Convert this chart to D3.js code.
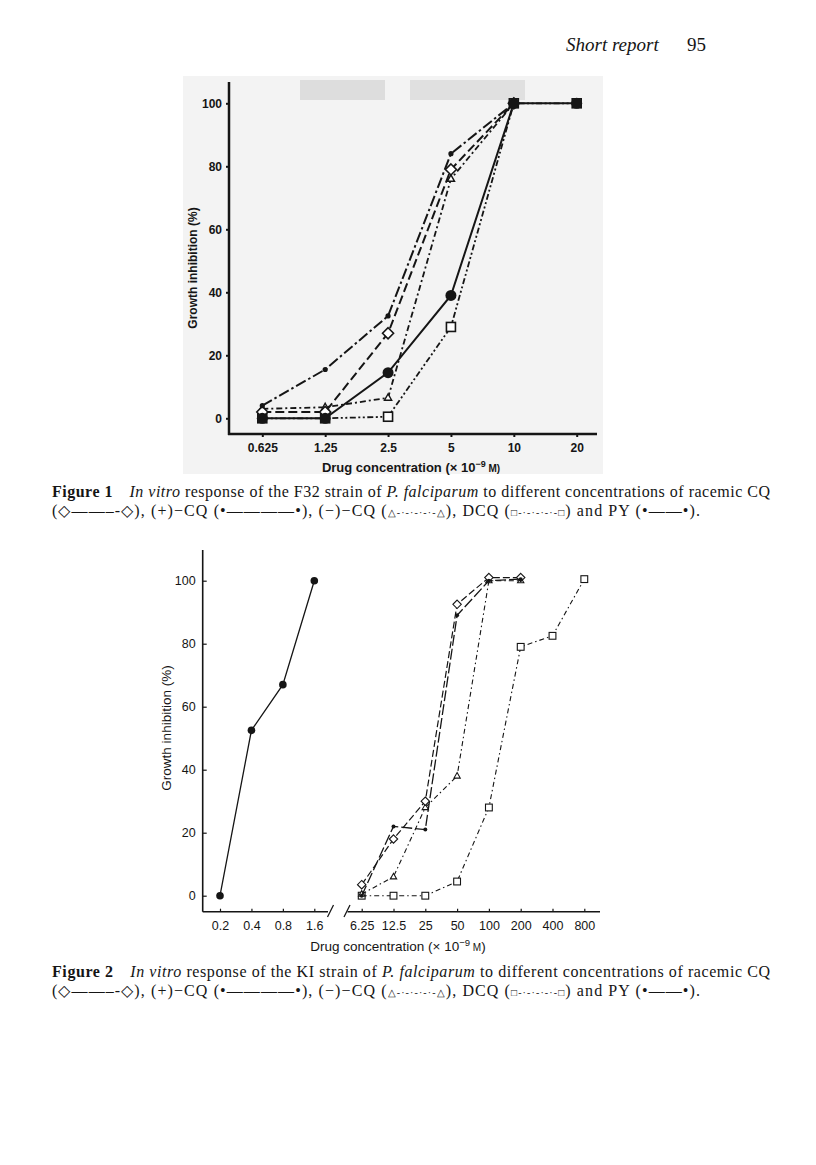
<!DOCTYPE html>
<html>
<head>
<meta charset="utf-8">
<script src="https://cdn.jsdelivr.net/npm/d3@7"></script>
<style>
  html, body { margin: 0; padding: 0; background: #fff; }
  svg { display: block; }
</style>
</head>
<body>
<svg id="page" width="816" height="1165"></svg>
<script>
// ---------------- DATA ----------------
// Figure 1 (F32 strain)
const fig1Conc = [0.625, 1.25, 2.5, 5, 10, 20];
const fig1TickLabels = ["0.625", "1.25", "2.5", "5", "10", "20"];
const fig1Racemic = [2, 2, 27, 79, 100, null];
const fig1Plus = [4, 15.5, 32.5, 84, 100, null];
const fig1Minus = [3, 3.5, 6.5, 76, 100, null];
const fig1DCQ = [0, 0, 0.5, 29, 100, 100];
const fig1PY = [0, 0, 14.5, 39, 100, 100];

// Figure 2 (KI strain)
const fig2PYConc = [0.2, 0.4, 0.8, 1.6];
const fig2PYLabels = ["0.2", "0.4", "0.8", "1.6"];
const fig2PY = [0, 52.5, 67, 100];
const fig2Conc = [6.25, 12.5, 25, 50, 100, 200, 400, 800];
const fig2TickLabels = ["6.25", "12.5", "25", "50", "100", "200", "400", "800"];
const fig2Racemic = [3.5, 18, 30, 92.5, 101, 101, null, null];
const fig2Plus = [0, 22, 21, 89, 100, 100.5, null, null];
const fig2Minus = [0.5, 6, 28, 38, 100, 100, null, null];
const fig2DCQ = [0, 0, 0, 4.5, 28, 79, 82.5, 100.5];

const yTicks = [0, 20, 40, 60, 80, 100];

// ---------------- DRAW ----------------
const svg = d3.select("#page");
const ink = "#151515";

// running header
svg.append("text").attr("x", 566).attr("y", 51)
  .attr("font-family", "Liberation Serif").attr("font-style", "italic")
  .attr("font-size", 19).attr("fill", ink).text("Short report");
svg.append("text").attr("x", 687).attr("y", 51)
  .attr("font-family", "Liberation Serif")
  .attr("font-size", 19).attr("fill", ink).text("95");

function zip(xs, ys) { return xs.map((x, i) => ({ x: x, v: ys[i] })); }

function drawMarker(g, type, cx, cy, size, sw) {
  if (type === "dot") {
    g.append("circle").attr("cx", cx).attr("cy", cy).attr("r", size).attr("fill", ink);
  } else if (type === "diamond") {
    g.append("path").attr("d", `M${cx},${cy - size}L${cx + size},${cy}L${cx},${cy + size}L${cx - size},${cy}Z`)
      .attr("fill", "#fff").attr("stroke", ink).attr("stroke-width", sw);
  } else if (type === "square") {
    g.append("rect").attr("x", cx - size).attr("y", cy - size).attr("width", 2 * size).attr("height", 2 * size)
      .attr("fill", "#fff").attr("stroke", ink).attr("stroke-width", sw);
  } else if (type === "triangle") {
    g.append("path").attr("d", `M${cx},${cy - size}L${cx + size * 0.9},${cy + size * 0.6}L${cx - size * 0.9},${cy + size * 0.6}Z`)
      .attr("fill", "#fff").attr("stroke", ink).attr("stroke-width", sw);
  }
}

function drawSeries(g, x, y, xs, ys, opt) {
  const pts = zip(xs, ys);
  const line = d3.line().defined(d => d.v != null).x(d => x(d.x)).y(d => y(d.v));
  g.append("path").datum(pts).attr("d", line)
    .attr("fill", "none").attr("stroke", ink).attr("stroke-width", opt.lw)
    .attr("stroke-dasharray", opt.dash || null);
  pts.filter(d => d.v != null).forEach(d => drawMarker(g, opt.marker, x(d.x), y(d.v), opt.size, opt.msw));
}

// ================= FIGURE 1 =================
(function () {
  const g = svg.append("g");
  // faint print-through background of the scanned figure
  g.append("rect").attr("x", 183).attr("y", 76).attr("width", 420).attr("height", 398).attr("fill", "#f3f3f3");
  g.append("rect").attr("x", 300).attr("y", 80).attr("width", 85).attr("height", 20).attr("fill", "#dddddd");
  g.append("rect").attr("x", 410).attr("y", 80).attr("width", 115).attr("height", 20).attr("fill", "#e0e0e0");

  const x = d3.scaleLog().base(2).domain([0.625, 20]).range([262.3, 576.7]);
  const y = d3.scaleLinear().domain([0, 100]).range([418.3, 103.3]);
  const axisX0 = 229, axisY0 = 434;

  // axes
  const yAxis = d3.axisLeft(y).tickValues(yTicks).tickSize(3).tickPadding(4);
  const ya = g.append("g").attr("transform", `translate(${axisX0},0)`).call(yAxis);
  ya.select(".domain").remove();
  ya.selectAll("line").attr("stroke", ink).attr("stroke-width", 2);
  ya.selectAll("text").attr("font-family", "Liberation Sans").attr("font-weight", "bold")
    .attr("font-size", 12).attr("fill", ink);

  const xAxis = d3.axisBottom(x).tickValues(fig1Conc).tickFormat((d, i) => fig1TickLabels[i]).tickSize(3).tickPadding(6);
  const xa = g.append("g").attr("transform", `translate(0,${axisY0})`).call(xAxis);
  xa.select(".domain").remove();
  xa.selectAll("line").attr("stroke", ink).attr("stroke-width", 2);
  xa.selectAll("text").attr("font-family", "Liberation Sans").attr("font-weight", "bold")
    .attr("font-size", 12).attr("fill", ink);

  g.append("line").attr("x1", axisX0).attr("x2", axisX0).attr("y1", 82).attr("y2", axisY0 + 1)
    .attr("stroke", ink).attr("stroke-width", 2.5);
  g.append("line").attr("x1", axisX0 - 1).attr("x2", 597).attr("y1", axisY0).attr("y2", axisY0)
    .attr("stroke", ink).attr("stroke-width", 2.5);

  // titles
  const xt = g.append("text").attr("x", 411).attr("y", 472).attr("text-anchor", "middle")
    .attr("font-family", "Liberation Sans").attr("font-weight", "bold").attr("font-size", 13).attr("fill", ink);
  xt.append("tspan").text("Drug concentration (× 10");
  xt.append("tspan").attr("dy", -5).attr("font-size", 9).text("−9");
  xt.append("tspan").attr("dy", 5).attr("font-size", 10).text(" M)");
  g.append("text").attr("transform", "translate(197,268) rotate(-90)").attr("text-anchor", "middle")
    .attr("font-family", "Liberation Sans").attr("font-weight", "bold").attr("font-size", 12).attr("fill", ink)
    .text("Growth inhibition (%)");

  // series
  drawSeries(g, x, y, fig1Conc, fig1DCQ, { marker: "square", size: 4.5, lw: 1.8, dash: "6,2.5,2,2.5,2,2.5", msw: 1.6 });
  drawSeries(g, x, y, fig1Conc, fig1Minus, { marker: "triangle", size: 4, lw: 1.8, dash: "6,3,2,3", msw: 1.4 });
  drawSeries(g, x, y, fig1Conc, fig1Racemic, { marker: "diamond", size: 5.5, lw: 2, dash: "9,4", msw: 1.6 });
  drawSeries(g, x, y, fig1Conc, fig1Plus, { marker: "dot", size: 2.6, lw: 2, dash: "11,3,2.5,3", msw: 1 });
  drawSeries(g, x, y, fig1Conc, fig1PY, { marker: "dot", size: 5.5, lw: 2, dash: null, msw: 1 });
})();

// ================= FIGURE 2 =================
(function () {
  const g = svg.append("g");
  const xL = d3.scaleLog().base(2).domain([0.2, 1.6]).range([220, 314.3]);
  const xR = d3.scaleLog().base(2).domain([6.25, 800]).range([361.7, 584.3]);
  const y = d3.scaleLinear().domain([0, 100]).range([895.7, 580.7]);
  const ax = 202.7, ay = 911.7;

  // y axis
  const yAxis = d3.axisLeft(y).tickValues(yTicks).tickSize(-4).tickPadding(7);
  const ya = g.append("g").attr("transform", `translate(${ax},0)`).call(yAxis);
  ya.select(".domain").remove();
  ya.selectAll("line").attr("stroke", ink).attr("stroke-width", 1.2);
  ya.selectAll("text").attr("font-family", "Liberation Sans").attr("font-size", 12.5).attr("fill", ink);
  g.append("line").attr("x1", ax).attr("x2", ax).attr("y1", 550).attr("y2", ay)
    .attr("stroke", ink).attr("stroke-width", 1.6);

  // x axes (broken)
  const xaL = g.append("g").attr("transform", `translate(0,${ay})`)
    .call(d3.axisBottom(xL).tickValues(fig2PYConc).tickFormat((d, i) => fig2PYLabels[i]).tickSize(-3).tickPadding(9));
  const xaR = g.append("g").attr("transform", `translate(0,${ay})`)
    .call(d3.axisBottom(xR).tickValues(fig2Conc).tickFormat((d, i) => fig2TickLabels[i]).tickSize(-3).tickPadding(9));
  [xaL, xaR].forEach(a => {
    a.select(".domain").remove();
    a.selectAll("line").attr("stroke", ink).attr("stroke-width", 1.2);
    a.selectAll("text").attr("font-family", "Liberation Sans").attr("font-size", 12.5).attr("fill", ink);
  });
  g.append("line").attr("x1", ax).attr("x2", 328).attr("y1", ay).attr("y2", ay).attr("stroke", ink).attr("stroke-width", 1.6);
  g.append("line").attr("x1", 347.5).attr("x2", 600).attr("y1", ay).attr("y2", ay).attr("stroke", ink).attr("stroke-width", 1.6);
  // break marks
  g.append("line").attr("x1", 327.5).attr("y1", 917).attr("x2", 333.5).attr("y2", 905).attr("stroke", ink).attr("stroke-width", 1.3);
  g.append("line").attr("x1", 344).attr("y1", 917).attr("x2", 350).attr("y2", 905).attr("stroke", ink).attr("stroke-width", 1.3);

  // titles
  const xt = g.append("text").attr("x", 398).attr("y", 951).attr("text-anchor", "middle")
    .attr("font-family", "Liberation Sans").attr("font-size", 13.5).attr("fill", ink);
  xt.append("tspan").text("Drug concentration (× 10");
  xt.append("tspan").attr("dy", -5).attr("font-size", 9.5).text("−9");
  xt.append("tspan").attr("dy", 5).attr("font-size", 10).text(" M");
  xt.append("tspan").text(")");
  g.append("text").attr("transform", "translate(171,728) rotate(-90)").attr("text-anchor", "middle")
    .attr("font-family", "Liberation Sans").attr("font-size", 13.5).attr("fill", ink)
    .text("Growth inhibition (%)");

  // series
  drawSeries(g, xL, y, fig2PYConc, fig2PY, { marker: "dot", size: 3.8, lw: 1.3, dash: null, msw: 1 });
  drawSeries(g, xR, y, fig2Conc, fig2DCQ, { marker: "square", size: 3.4, lw: 1.1, dash: "5,3,1.5,3", msw: 1.1 });
  drawSeries(g, xR, y, fig2Conc, fig2Minus, { marker: "triangle", size: 3.5, lw: 1.1, dash: "5,3,1.5,3", msw: 1.1 });
  drawSeries(g, xR, y, fig2Conc, fig2Racemic, { marker: "diamond", size: 4.2, lw: 1.2, dash: "7,3", msw: 1.1 });
  drawSeries(g, xR, y, fig2Conc, fig2Plus, { marker: "dot", size: 2, lw: 1.3, dash: "11,3", msw: 1 });
})();

// ================= CAPTIONS =================
function caption(yBase, figLabel, strain) {
  const t1 = svg.append("text").attr("x", 52).attr("y", yBase)
    .attr("font-family", "Liberation Serif").attr("font-size", 16).attr("fill", ink)
    .attr("textLength", 718).attr("lengthAdjust", "spacing");
  t1.append("tspan").attr("font-weight", "bold").text(figLabel);
  t1.append("tspan").attr("font-style", "italic").text("\u2003In vitro");
  t1.append("tspan").text(" response of the " + strain + " strain of ");
  t1.append("tspan").attr("font-style", "italic").text("P. falciparum");
  t1.append("tspan").text(" to different concentrations of racemic CQ");

  const t2 = svg.append("text").attr("x", 52).attr("y", yBase + 19)
    .attr("font-family", "Liberation Serif").attr("font-size", 16).attr("fill", ink)
    .attr("textLength", 648).attr("lengthAdjust", "spacing");
  t2.append("tspan").text("(◇——–-◇), (+)−CQ (•————•), (−)−CQ (");
  t2.append("tspan").attr("font-size", 10).text("△-·-·-·-·-△");
  t2.append("tspan").text("), DCQ (");
  t2.append("tspan").attr("font-size", 10).text("□-·-·-·-·-□");
  t2.append("tspan").text(") and PY (•——•).");
}
caption(497, "Figure 1", "F32");
caption(977, "Figure 2", "KI");
</script>
</body>
</html>
